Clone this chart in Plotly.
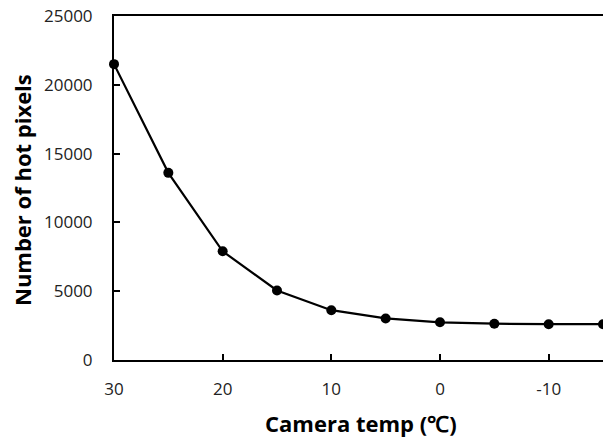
import plotly.graph_objects as go

temps = [30, 25, 20, 15, 10, 5, 0, -5, -10, -15]
hot_pixels = [21500, 13600, 7900, 5050, 3620, 3020, 2740, 2640, 2600, 2600]
x_ticks = [30, 20, 10, 0, -10]
y_ticks = [0, 5000, 10000, 15000, 20000, 25000]
x_title = "Camera temp (℃)"
y_title = "Number of hot pixels"

fig = go.Figure()
fig.add_trace(go.Scatter(
    x=temps, y=hot_pixels, mode="lines+markers",
    line=dict(color="black", width=2.2),
    marker=dict(color="black", size=10),
    cliponaxis=False, showlegend=False,
))

font_family = "Open Sans, sans-serif"
L, R, T, B, W, H = 114, 0, 16, 81, 603, 441
fig.update_layout(
    width=W, height=H,
    margin=dict(l=L, r=R, t=T, b=B, autoexpand=False),
    paper_bgcolor="white", plot_bgcolor="white",
    font=dict(family=font_family, color="#222"),
    xaxis=dict(
        range=[30, -15], tickvals=x_ticks, ticktext=[str(v) for v in x_ticks],
        ticks="inside", ticklen=6, tickwidth=2, tickcolor="black",
        showline=True, linecolor="black", linewidth=2, mirror=True,
        showgrid=False, zeroline=False, automargin=False,
        tickfont=dict(size=17), ticklabelstandoff=13,
    ),
    yaxis=dict(
        range=[0, 25000], tickvals=y_ticks, ticktext=[str(v) for v in y_ticks],
        ticks="inside", ticklen=6, tickwidth=2, tickcolor="black",
        showline=True, linecolor="black", linewidth=2, mirror=False,
        showgrid=False, zeroline=False, automargin=False,
        tickfont=dict(size=17), ticklabelstandoff=16,
    ),
    annotations=[
        dict(text="<b>%s</b>" % x_title, xref="paper", yref="paper",
             x=(361 - L) / (W - L - R), y=-(423 - (H - B)) / (H - T - B),
             xanchor="center", yanchor="middle", showarrow=False,
             font=dict(size=22, color="black", family=font_family)),
        dict(text="<b>%s</b>" % y_title, xref="paper", yref="paper",
             x=-(L - 22) / (W - L - R), y=(H - B - 190) / (H - T - B),
             xanchor="center", yanchor="middle", showarrow=False, textangle=-90,
             font=dict(size=22, color="black", family=font_family)),
    ],
)
fig.write_html("out.html", config={"displayModeBar": False},
               post_script="document.body.style.margin='0';document.body.style.overflow='hidden';")
